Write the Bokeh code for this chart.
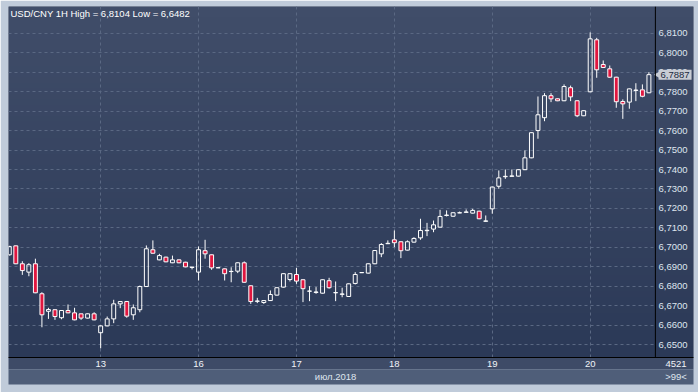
import numpy as np
from bokeh.plotting import figure
from bokeh.models import (ColumnDataSource, FixedTicker, CustomJSTickFormatter,
                          LinearAxis, Label, Range1d, Span)
from bokeh.embed import file_html
from bokeh.resources import INLINE

# ---- data (USD/CNY 1H candles) ----
opens = [6.6962, 6.7008, 6.6916, 6.6873, 6.6916, 6.6762, 6.6672, 6.6680, 6.6639, 6.6676,
         6.6664, 6.6659, 6.6637, 6.6659, 6.6562, 6.6597, 6.6633, 6.6710, 6.6722, 6.6654,
         6.6680, 6.6799, 6.6988, 6.6936, 6.6950, 6.6921, 6.6936, 6.6924, 6.6897, 6.6873,
         6.6983, 6.6962, 6.6895, 6.6890, 6.6876, 6.6878, 6.6921, 6.6803, 6.6723, 6.6717,
         6.6727, 6.6755, 6.6796, 6.6835, 6.6861, 6.6834, 6.6775, 6.6769, 6.6765, 6.6829,
         6.6767, 6.6759, 6.6748, 6.6815, 6.6870, 6.6868, 6.6916, 6.6967, 6.7019, 6.7039,
         6.7029, 6.6986, 6.7027, 6.7049, 6.7086, 6.7094, 6.7104, 6.7164, 6.7160, 6.7177,
         6.7180, 6.7176, 6.7186, 6.7134, 6.7198, 6.7314, 6.7363, 6.7365, 6.7366, 6.7399,
         6.7460, 6.7600, 6.7666, 6.7779, 6.7763, 6.7753, 6.7820, 6.7753, 6.7676, 6.7799,
         6.8066, 6.7939, 6.7917, 6.7874, 6.7749, 6.7746, 6.7806, 6.7809, 6.7794]
highs = [6.7008, 6.7010, 6.6929, 6.6919, 6.6942, 6.6770, 6.6690, 6.6682, 6.6678, 6.6707,
         6.6690, 6.6660, 6.6661, 6.6667, 6.6600, 6.6645, 6.6731, 6.6724, 6.6725, 6.6707,
         6.6804, 6.7010, 6.7036, 6.6967, 6.6952, 6.6958, 6.6938, 6.6926, 6.6900, 6.7005,
         6.7039, 6.6964, 6.6897, 6.6892, 6.6898, 6.6923, 6.6928, 6.6805, 6.6741, 6.6729,
         6.6779, 6.6795, 6.6867, 6.6867, 6.6895, 6.6836, 6.6801, 6.6796, 6.6836, 6.6844,
         6.6825, 6.6793, 6.6815, 6.6873, 6.6873, 6.6918, 6.6986, 6.7022, 6.7036, 6.7087,
         6.7031, 6.7036, 6.7052, 6.7147, 6.7126, 6.7138, 6.7193, 6.7190, 6.7180, 6.7184,
         6.7195, 6.7198, 6.7188, 6.7164, 6.7312, 6.7395, 6.7400, 6.7400, 6.7401, 6.7498,
         6.7591, 6.7775, 6.7792, 6.7792, 6.7765, 6.7837, 6.7831, 6.7755, 6.7704, 6.8104,
         6.8076, 6.7960, 6.7934, 6.7876, 6.7760, 6.7816, 6.7843, 6.7837, 6.7900]
lows = [6.6958, 6.6914, 6.6859, 6.6852, 6.6765, 6.6590, 6.6633, 6.6628, 6.6631, 6.6662,
        6.6626, 6.6628, 6.6635, 6.6626, 6.6482, 6.6595, 6.6611, 6.6688, 6.6639, 6.6628,
        6.6667, 6.6797, 6.6968, 6.6934, 6.6924, 6.6919, 6.6919, 6.6898, 6.6887, 6.6830,
        6.6942, 6.6885, 6.6894, 6.6830, 6.6821, 6.6868, 6.6819, 6.6710, 6.6714, 6.6710,
        6.6725, 6.6753, 6.6794, 6.6825, 6.6813, 6.6719, 6.6724, 6.6762, 6.6763, 6.6788,
        6.6724, 6.6744, 6.6746, 6.6810, 6.6869, 6.6866, 6.6914, 6.6950, 6.7018, 6.7001,
        6.6945, 6.6984, 6.7025, 6.7039, 6.7058, 6.7078, 6.7102, 6.7159, 6.7158, 6.7176,
        6.7179, 6.7174, 6.7145, 6.7132, 6.7173, 6.7301, 6.7352, 6.7364, 6.7364, 6.7397,
        6.7458, 6.7558, 6.7648, 6.7746, 6.7751, 6.7751, 6.7751, 6.7669, 6.7674, 6.7797,
        6.7871, 6.7922, 6.7871, 6.7717, 6.7660, 6.7712, 6.7751, 6.7771, 6.7792]
closes = [6.7005, 6.6916, 6.6881, 6.6911, 6.6767, 6.6654, 6.6681, 6.6645, 6.6676, 6.6664,
          6.6628, 6.6637, 6.6659, 6.6628, 6.6597, 6.6633, 6.6710, 6.6722, 6.6647, 6.6690,
          6.6799, 6.6993, 6.6970, 6.6958, 6.6926, 6.6936, 6.6921, 6.6900, 6.6899, 6.6988,
          6.6967, 6.6895, 6.6896, 6.6865, 6.6877, 6.6921, 6.6821, 6.6722, 6.6725, 6.6727,
          6.6758, 6.6793, 6.6865, 6.6865, 6.6827, 6.6788, 6.6776, 6.6771, 6.6834, 6.6793,
          6.6768, 6.6761, 6.6813, 6.6861, 6.6871, 6.6916, 6.6984, 6.7015, 6.7021, 6.7024,
          6.6983, 6.7029, 6.7046, 6.7087, 6.7088, 6.7116, 6.7159, 6.7166, 6.7178, 6.7178,
          6.7182, 6.7190, 6.7147, 6.7136, 6.7310, 6.7357, 6.7365, 6.7367, 6.7399, 6.7460,
          6.7589, 6.7681, 6.7779, 6.7763, 6.7753, 6.7826, 6.7773, 6.7676, 6.7702, 6.8071,
          6.7912, 6.7924, 6.7874, 6.7748, 6.7737, 6.7814, 6.7808, 6.7776, 6.7887]

day_ticks = [14, 29, 44, 59, 74, 89]
day_labels = ["13", "16", "17", "18", "19", "20"]
month_tick = [50]
month_label = ["июл.2018"]
price_ticks = [6.65, 6.66, 6.67, 6.68, 6.69, 6.70, 6.71, 6.72, 6.73, 6.74,
               6.75, 6.76, 6.77, 6.78, 6.79, 6.80, 6.81]
title_text = "USD/CNY 1H High = 6,8104 Low = 6,6482"
bars_count = "4521"
zoom_text = ">99<"
last_price = closes[-1]

# ---- layout / styles ----
X0, X1 = -0.12, 104.83          # frame spans data area + price column
XDATA_END = 98.99               # right edge of the candle area
XCORNER = 102.15                # centre of the price column
XTAG = 99.47
Y0, Y1 = 6.64347, 6.8237
FRAME_TOP, FRAME_BOT = (64, 77, 105), (43, 57, 87)
RED = "#e0163f"
GRID = "#5a6883"
FONT = "Liberation Sans"
LBL = "#dfe5ee"
EDGE = "#c0cbda"

idx = list(range(len(opens)))
up = [c >= o for o, c in zip(opens, closes)]
top = [max(o, c) for o, c in zip(opens, closes)]
bot = [min(o, c) for o, c in zip(opens, closes)]
src = ColumnDataSource(dict(
    x=idx, h=highs, l=lows, top=top, bottom=bot,
    fill=[RED for _ in up], falpha=[0.0 if u else 1.0 for u in up],
))

p = figure(frame_width=685, frame_height=351,
           x_range=Range1d(X0, X1), y_range=Range1d(Y0, Y1),
           y_axis_location="right", toolbar_location=None, output_backend="svg",
           min_border_left=8, min_border_top=6, min_border_right=5, min_border_bottom=35,
           background_fill_color="#35425e", border_fill_color=EDGE, outline_line_color=None)

# vertical gradient background of the chart panel (drawn below the grid)
n = 64
grad = np.zeros((n, 1), dtype=np.uint32)
view = grad.view(dtype=np.uint8).reshape((n, 1, 4))
for i in range(n):
    t = i / (n - 1)
    for ch in range(3):
        view[i, 0, ch] = int(round(FRAME_BOT[ch] + (FRAME_TOP[ch] - FRAME_BOT[ch]) * t))
    view[i, 0, 3] = 255
p.image_rgba(image=[grad], x=X0, y=Y0, dw=X1 - X0, dh=Y1 - Y0, level="image")

# candles
p.segment(x0="x", x1="x", y0="top", y1="h", source=src, line_color="white", line_width=1)
p.segment(x0="x", x1="x", y0="l", y1="bottom", source=src, line_color="white", line_width=1)
p.vbar(x="x", width=0.6, top="top", bottom="bottom", source=src,
       fill_color="fill", fill_alpha="falpha", line_color="white", line_width=1)

# y axis (price labels drawn inside the price column)
ya = p.yaxis[0]
ya.ticker = FixedTicker(ticks=price_ticks)
ya.formatter = CustomJSTickFormatter(code="return tick.toFixed(4).replace('.', ',');")
ya.major_label_text_color = LBL
ya.major_label_text_font = FONT
ya.major_label_text_font_size = "9.5px"
ya.major_tick_out = 0
ya.major_tick_in = 0
ya.minor_tick_out = 0
ya.minor_tick_in = 0
ya.axis_line_color = None
ya.major_label_standoff = -35

# x axis (days)
xa = p.xaxis[0]
xa.ticker = FixedTicker(ticks=day_ticks + [XCORNER])
xa.major_label_overrides = {**{t: s for t, s in zip(day_ticks, day_labels)}, XCORNER: bars_count}
xa.major_label_text_color = "#f0f3f8"
xa.major_label_text_font = FONT
xa.major_label_text_font_size = "9.5px"
xa.major_tick_out = 0
xa.major_tick_in = 0
xa.minor_tick_out = 0
xa.minor_tick_in = 0
xa.axis_line_color = "black"
xa.major_label_standoff = 3
xa.background_fill_color = "#3e4b67"

# month axis
ma = LinearAxis(ticker=FixedTicker(ticks=month_tick + [XCORNER]),
                major_label_overrides={**{t: s for t, s in zip(month_tick, month_label)},
                                       XCORNER: zoom_text})
ma.major_label_text_color = LBL
ma.major_label_text_font = FONT
ma.major_label_text_font_size = "9.5px"
ma.major_tick_out = 0
ma.major_tick_in = 0
ma.minor_tick_out = 0
ma.minor_tick_in = 0
ma.axis_line_color = None
ma.major_label_standoff = 1
ma.background_fill_color = "#4f5e79"
p.add_layout(ma, "below")

p.xgrid.ticker = FixedTicker(ticks=day_ticks)
for g in (p.xgrid[0], p.ygrid[0]):
    g.grid_line_color = GRID
    g.grid_line_dash = "3 3"
    g.grid_line_width = 1
p.ygrid[0].cross_bounds = (X0, XDATA_END)

# separator between candles and price column
p.add_layout(Span(location=XDATA_END, dimension="height", line_color="black", line_width=1))

# title label
p.add_layout(Label(x=X0, y=Y1, x_offset=2, y_offset=-1, text=title_text,
                   text_baseline="top", text_color="white", text_font=FONT,
                   text_font_size="9.5px"))

# last price tag
p.scatter(x=[XTAG], y=[last_price], marker="triangle", angle=np.pi / 2, size=8,
          fill_color="#c8ccd4", line_color=None)
p.add_layout(Label(x=XTAG, y=last_price, text=f"{last_price:.4f}".replace(".", ","),
                   text_baseline="middle", text_align="left", text_color="#1d2a40",
                   text_font=FONT, text_font_size="9.5px",
                   background_fill_color="#c8ccd4", padding=2))

html = file_html(p, INLINE)
open("out.html", "w").write(html)
